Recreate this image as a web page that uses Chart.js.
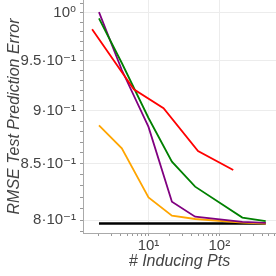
<!DOCTYPE html>
<html><head><meta charset="utf-8">
<script src="https://cdn.jsdelivr.net/npm/chart.js@4.4.0/dist/chart.umd.min.js"></script>
<style>html,body{margin:0;padding:0;background:#fff;}canvas{display:block;}</style>
</head><body>
<canvas id="c" width="276" height="276"></canvas>
<script>
// ---- data ----
const xMain   = [2, 4.2, 10, 21.4, 45.5, 211, 451];
const yPurple = [1.001, 0.9404, 0.8845, 0.8160, 0.8029, 0.7985, 0.7975];
const yGreen  = [0.9943, 0.9475, 0.8930, 0.8519, 0.8293, 0.8021, 0.7991];
const yOrange = [0.8860, 0.8642, 0.8197, 0.8038, 0.8009, 0.7977, 0.7970];
const xRed    = [1.6, 6.2, 16.3, 50, 157];
const yRed    = [0.9826, 0.9211, 0.9025, 0.8617, 0.8443];
const xBlack  = [2, 451];
const yBlack  = [0.797, 0.797];

const xMajorTicks  = [10, 100];
const xMajorLabels = ["10\u00B9", "10\u00B2"];
const xMinorTicks  = [2,3,4,5,6,7,8,9,20,30,40,50,60,70,80,90,200,300,400,500,600];
const yMajorTicks  = [0.8, 0.85, 0.9, 0.95, 1.0];
const yMajorLabels = ["8\u00B710\u207B\u00B9", "8.5\u00B710\u207B\u00B9", "9\u00B710\u207B\u00B9", "9.5\u00B710\u207B\u00B9", "10\u2070"];
const yMinorTicks  = [0.79,0.81,0.82,0.83,0.84,0.86,0.87,0.88,0.89,0.91,0.92,0.93,0.94,0.96,0.97,0.98,0.99,1.01];

const pts = (xs, ys) => xs.map((x, i) => ({x, y: ys[i]}));
const FONT = '"Liberation Sans", "DejaVu Sans", Arial, sans-serif';
const near = (a, b) => Math.abs(a - b) < 1e-9 * Math.max(1, Math.abs(b));
const labelFor = (val, majors, labels) => {
  const i = majors.findIndex(m => near(m, val));
  return i >= 0 ? labels[i] : '';
};
const isMajor = (val, majors) => majors.some(m => near(m, val));

const ds = (label, data, color, w, order) => ({
  label, data, borderColor: color, backgroundColor: color, borderWidth: w,
  pointRadius: 0, tension: 0, fill: false, order
});

new Chart(document.getElementById('c'), {
  type: 'line',
  data: {
    datasets: [
      ds('red', pts(xRed, yRed), '#ff0000', 1.8, 1),
      ds('green', pts(xMain, yGreen), '#008000', 1.8, 2),
      ds('purple', pts(xMain, yPurple), '#800080', 1.8, 3),
      ds('orange', pts(xMain, yOrange), '#ffa500', 1.8, 4),
      ds('black', pts(xBlack, yBlack), '#000000', 2.5, 5)
    ]
  },
  options: {
    responsive: false,
    animation: false,
    devicePixelRatio: 1,
    layout: {padding: 0},
    plugins: {legend: {display: false}, tooltip: {enabled: false}},
    scales: {
      x: {
        type: 'logarithmic', min: 1.19, max: 630,
        afterBuildTicks: s => {
          s.ticks = [...xMajorTicks, ...xMinorTicks].sort((a,b)=>a-b).map(v => ({value: v}));
        },
        afterFit: s => { s.height = 43; s.paddingLeft = 0; s.paddingRight = 0; },
        ticks: {
          autoSkip: false, maxRotation: 0, padding: 1,
          color: '#444', font: {family: FONT, size: 15},
          callback: v => labelFor(v, xMajorTicks, xMajorLabels)
        },
        grid: {
          color: c => (c.tick && isMajor(c.tick.value, xMajorTicks)) ? '#ececec' : 'rgba(0,0,0,0)',
          tickColor: '#999', tickLength: 3, drawTicks: true
        },
        border: {color: '#aaa', width: 1},
        title: {
          display: true, text: '# Inducing Pts', color: '#444',
          font: {family: FONT, size: 16, style: 'italic'},
          padding: {top: 0, bottom: 5}
        }
      },
      y: {
        type: 'logarithmic', min: 0.7889, max: 1.0141,
        afterBuildTicks: s => {
          s.ticks = [...yMajorTicks, ...yMinorTicks].sort((a,b)=>a-b).map(v => ({value: v}));
        },
        afterFit: s => { s.width = 83; s.paddingTop = 0; s.paddingBottom = 0; },
        ticks: {
          autoSkip: false, padding: 4,
          color: '#444', font: {family: FONT, size: 15},
          callback: v => labelFor(v, yMajorTicks, yMajorLabels)
        },
        grid: {
          color: c => (c.tick && isMajor(c.tick.value, yMajorTicks)) ? '#ececec' : 'rgba(0,0,0,0)',
          tickColor: '#999', tickLength: 3, drawTicks: true
        },
        border: {color: '#aaa', width: 1},
        title: {
          display: true, text: 'RMSE Test Prediction Error', color: '#444',
          font: {family: FONT, size: 16, style: 'italic'},
          padding: {top: 5, bottom: 0}
        }
      }
    }
  }
});
</script></body></html>
